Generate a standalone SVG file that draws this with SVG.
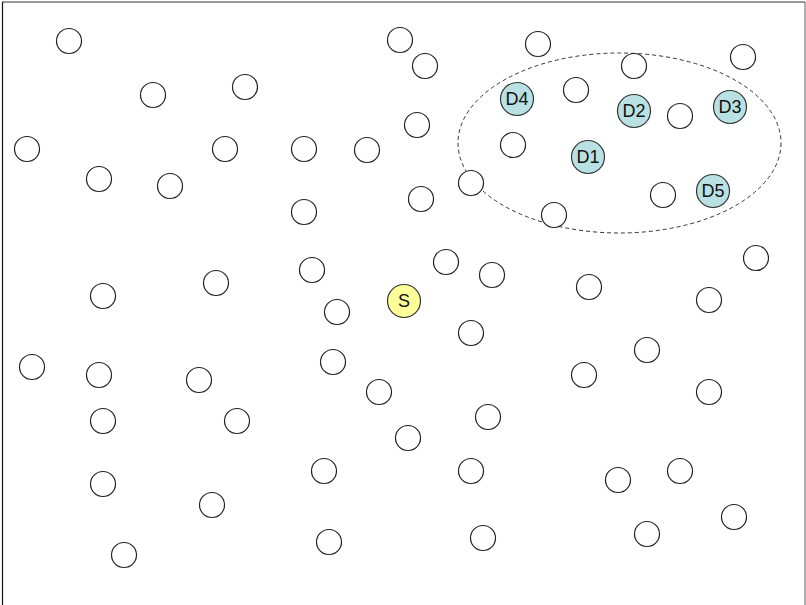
<svg xmlns="http://www.w3.org/2000/svg" width="806" height="605" viewBox="0 0 806 605">
<style>
.n{fill:#fff;stroke:#222;stroke-width:1.2}
.d{fill:#b9e1e3;stroke:#333;stroke-width:1.2}
.s{fill:#ffff99;stroke:#333;stroke-width:1.2}
text{font-family:"Liberation Sans",Arial,sans-serif;font-size:18px;fill:#111;text-anchor:middle;dominant-baseline:central}
</style>
<rect x="0" y="0" width="806" height="605" fill="#fff"/>
<line x1="2" y1="2" x2="805" y2="2" stroke="#777" stroke-width="1.5"/>
<line x1="2.5" y1="2" x2="2.5" y2="605" stroke="#111" stroke-width="1.2"/>
<line x1="805" y1="2" x2="805" y2="605" stroke="#777" stroke-width="1.2"/>
<g id="region">
<ellipse cx="619.5" cy="143" rx="161.5" ry="90" fill="none" stroke="#333" stroke-width="1" stroke-dasharray="4,3"/>
</g>
<g id="connectors"></g>
<g id="nodes">
<circle class="n" cx="69" cy="41" r="12.5"/>
<circle class="n" cx="400" cy="40" r="12.5"/>
<circle class="n" cx="425" cy="66" r="12.5"/>
<circle class="n" cx="538" cy="44" r="12.5"/>
<circle class="n" cx="634" cy="66" r="12.5"/>
<circle class="n" cx="743" cy="57" r="12.5"/>
<circle class="n" cx="153" cy="95" r="12.5"/>
<circle class="n" cx="245" cy="87" r="12.5"/>
<circle class="n" cx="576" cy="90" r="12.5"/>
<circle class="n" cx="680" cy="116" r="12.5"/>
<circle class="n" cx="417" cy="125" r="12.5"/>
<circle class="n" cx="27" cy="149" r="12.5"/>
<circle class="n" cx="225" cy="149" r="12.5"/>
<circle class="n" cx="304" cy="149" r="12.5"/>
<circle class="n" cx="367" cy="150" r="12.5"/>
<circle class="n" cx="513" cy="145" r="12.5"/>
<circle class="n" cx="99" cy="179" r="12.5"/>
<circle class="n" cx="170" cy="186" r="12.5"/>
<circle class="n" cx="421" cy="199" r="12.5"/>
<circle class="n" cx="471" cy="183" r="12.5"/>
<circle class="n" cx="663" cy="195" r="12.5"/>
<circle class="n" cx="554" cy="215" r="12.5"/>
<circle class="n" cx="304" cy="212" r="12.5"/>
<circle class="n" cx="756" cy="258" r="12.5"/>
<circle class="n" cx="446" cy="262" r="12.5"/>
<circle class="n" cx="492" cy="275" r="12.5"/>
<circle class="n" cx="312" cy="270" r="12.5"/>
<circle class="n" cx="216" cy="283" r="12.5"/>
<circle class="n" cx="103" cy="296" r="12.5"/>
<circle class="n" cx="589" cy="287" r="12.5"/>
<circle class="n" cx="709" cy="300" r="12.5"/>
<circle class="n" cx="337" cy="312" r="12.5"/>
<circle class="n" cx="471" cy="333" r="12.5"/>
<circle class="n" cx="647" cy="350" r="12.5"/>
<circle class="n" cx="32" cy="367" r="12.5"/>
<circle class="n" cx="99" cy="375" r="12.5"/>
<circle class="n" cx="199" cy="380" r="12.5"/>
<circle class="n" cx="333" cy="362" r="12.5"/>
<circle class="n" cx="379" cy="392" r="12.5"/>
<circle class="n" cx="584" cy="375" r="12.5"/>
<circle class="n" cx="709" cy="392" r="12.5"/>
<circle class="n" cx="103" cy="421" r="12.5"/>
<circle class="n" cx="237" cy="421" r="12.5"/>
<circle class="n" cx="488" cy="417" r="12.5"/>
<circle class="n" cx="408" cy="438" r="12.5"/>
<circle class="n" cx="471" cy="471" r="12.5"/>
<circle class="n" cx="324" cy="471" r="12.5"/>
<circle class="n" cx="680" cy="471" r="12.5"/>
<circle class="n" cx="618" cy="480" r="12.5"/>
<circle class="n" cx="103" cy="484" r="12.5"/>
<circle class="n" cx="212" cy="505" r="12.5"/>
<circle class="n" cx="734" cy="517" r="12.5"/>
<circle class="n" cx="647" cy="534" r="12.5"/>
<circle class="n" cx="483" cy="538" r="12.5"/>
<circle class="n" cx="329" cy="542" r="12.5"/>
<circle class="n" cx="124" cy="555" r="12.5"/>
</g>
<g id="D4"><circle class="d" cx="517" cy="99" r="16.5"/><text x="517" y="99">D4</text></g>
<g id="D2"><circle class="d" cx="634" cy="111" r="16.5"/><text x="634" y="111">D2</text></g>
<g id="D3"><circle class="d" cx="730" cy="107" r="16.5"/><text x="730" y="107">D3</text></g>
<g id="D1"><circle class="d" cx="588" cy="157" r="16.5"/><text x="588" y="157">D1</text></g>
<g id="D5"><circle class="d" cx="713" cy="191" r="16.5"/><text x="713" y="191">D5</text></g>
<g id="S"><circle class="s" cx="404" cy="301" r="16.5"/><text x="404" y="301">S</text></g>
</svg>
